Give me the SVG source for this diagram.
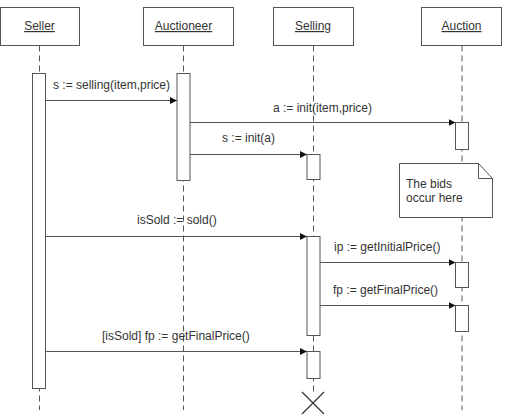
<svg xmlns="http://www.w3.org/2000/svg" width="505" height="417" viewBox="0 0 505 417">
<defs>
<style>
.box{fill:#fff;stroke:#555;stroke-width:1}
.life{stroke:#555;stroke-width:1;stroke-dasharray:6,4;fill:none}
.act{fill:#fff;stroke:#555;stroke-width:1}
.msg{stroke:#555;stroke-width:1;fill:none;marker-end:url(#arr)}
text{font-family:"Liberation Sans",Arial,sans-serif;font-size:12px;fill:#333}
.hd{text-anchor:middle;text-decoration:underline}
</style>
<marker id="arr" viewBox="0 0 10 10" refX="10" refY="5" markerWidth="7" markerHeight="7" markerUnits="userSpaceOnUse" orient="auto">
<path d="M0,0 L10,5 L0,10 z" fill="#111"/>
</marker>
</defs>
<rect width="505" height="417" fill="#fff"/>
<g id="seller">
<rect class="box" x="0.5" y="7.5" width="79" height="38"/>
<text class="hd" x="39.5" y="30">Seller</text>
<line class="life" x1="39.5" y1="45.5" x2="39.5" y2="410"/>
<rect class="act" x="32.5" y="73.5" width="13" height="315"/>
</g>
<g id="auctioneer">
<rect class="box" x="143.5" y="7.5" width="90" height="38"/>
<text class="hd" x="183.5" y="30">Auctioneer</text>
<line class="life" x1="183.5" y1="45.5" x2="183.5" y2="410"/>
<rect class="act" x="177" y="73.5" width="13" height="107"/>
</g>
<g id="selling">
<rect class="box" x="273.5" y="7.5" width="80" height="38"/>
<text class="hd" x="313" y="30">Selling</text>
<line class="life" x1="313.5" y1="45.5" x2="313.5" y2="392"/>
<rect class="act" x="307" y="154.5" width="13" height="25"/>
<rect class="act" x="307" y="236.5" width="13" height="99"/>
<rect class="act" x="307" y="351.5" width="13" height="27"/>
<path d="M302,392 L324,414 M324,392 L302,414" stroke="#333" stroke-width="1.2" fill="none"/>
</g>
<g id="auction">
<rect class="box" x="421.5" y="7.5" width="80" height="38"/>
<text class="hd" x="461.5" y="30">Auction</text>
<line class="life" x1="462" y1="45.5" x2="462" y2="410"/>
<rect class="act" x="455.5" y="122.5" width="13" height="27"/>
<rect class="act" x="455.5" y="262.5" width="13" height="25"/>
<rect class="act" x="455.5" y="305.5" width="13" height="26"/>
</g>
<g id="note">
<path class="box" d="M399.5,163.5 L478.5,163.5 L492.5,178.5 L492.5,217.5 L399.5,217.5 z"/>
<path d="M478.5,163.5 L478.5,178.5 L492.5,178.5" fill="none" stroke="#555"/>
<text x="406" y="188">The bids</text>
<text x="406" y="202">occur here</text>
</g>
<g id="connectors">
<line class="msg" x1="46" y1="100.5" x2="177" y2="100.5"/>
<text x="53" y="88.5">s := selling(item,price)</text>
<line class="msg" x1="190" y1="122.5" x2="455.5" y2="122.5"/>
<text x="273" y="111.5">a := init(item,price)</text>
<line class="msg" x1="190" y1="154.5" x2="307" y2="154.5"/>
<text x="222" y="142">s := init(a)</text>
<line class="msg" x1="46" y1="236.5" x2="307" y2="236.5"/>
<text x="137" y="223.5">isSold := sold()</text>
<line class="msg" x1="320" y1="262.5" x2="455.5" y2="262.5"/>
<text x="334" y="251">ip := getInitialPrice()</text>
<line class="msg" x1="320" y1="305.5" x2="455.5" y2="305.5"/>
<text x="333" y="293.5">fp := getFinalPrice()</text>
<line class="msg" x1="46" y1="351.5" x2="307" y2="351.5"/>
<text x="102" y="339.5">[isSold] fp := getFinalPrice()</text>
</g>
</svg>
